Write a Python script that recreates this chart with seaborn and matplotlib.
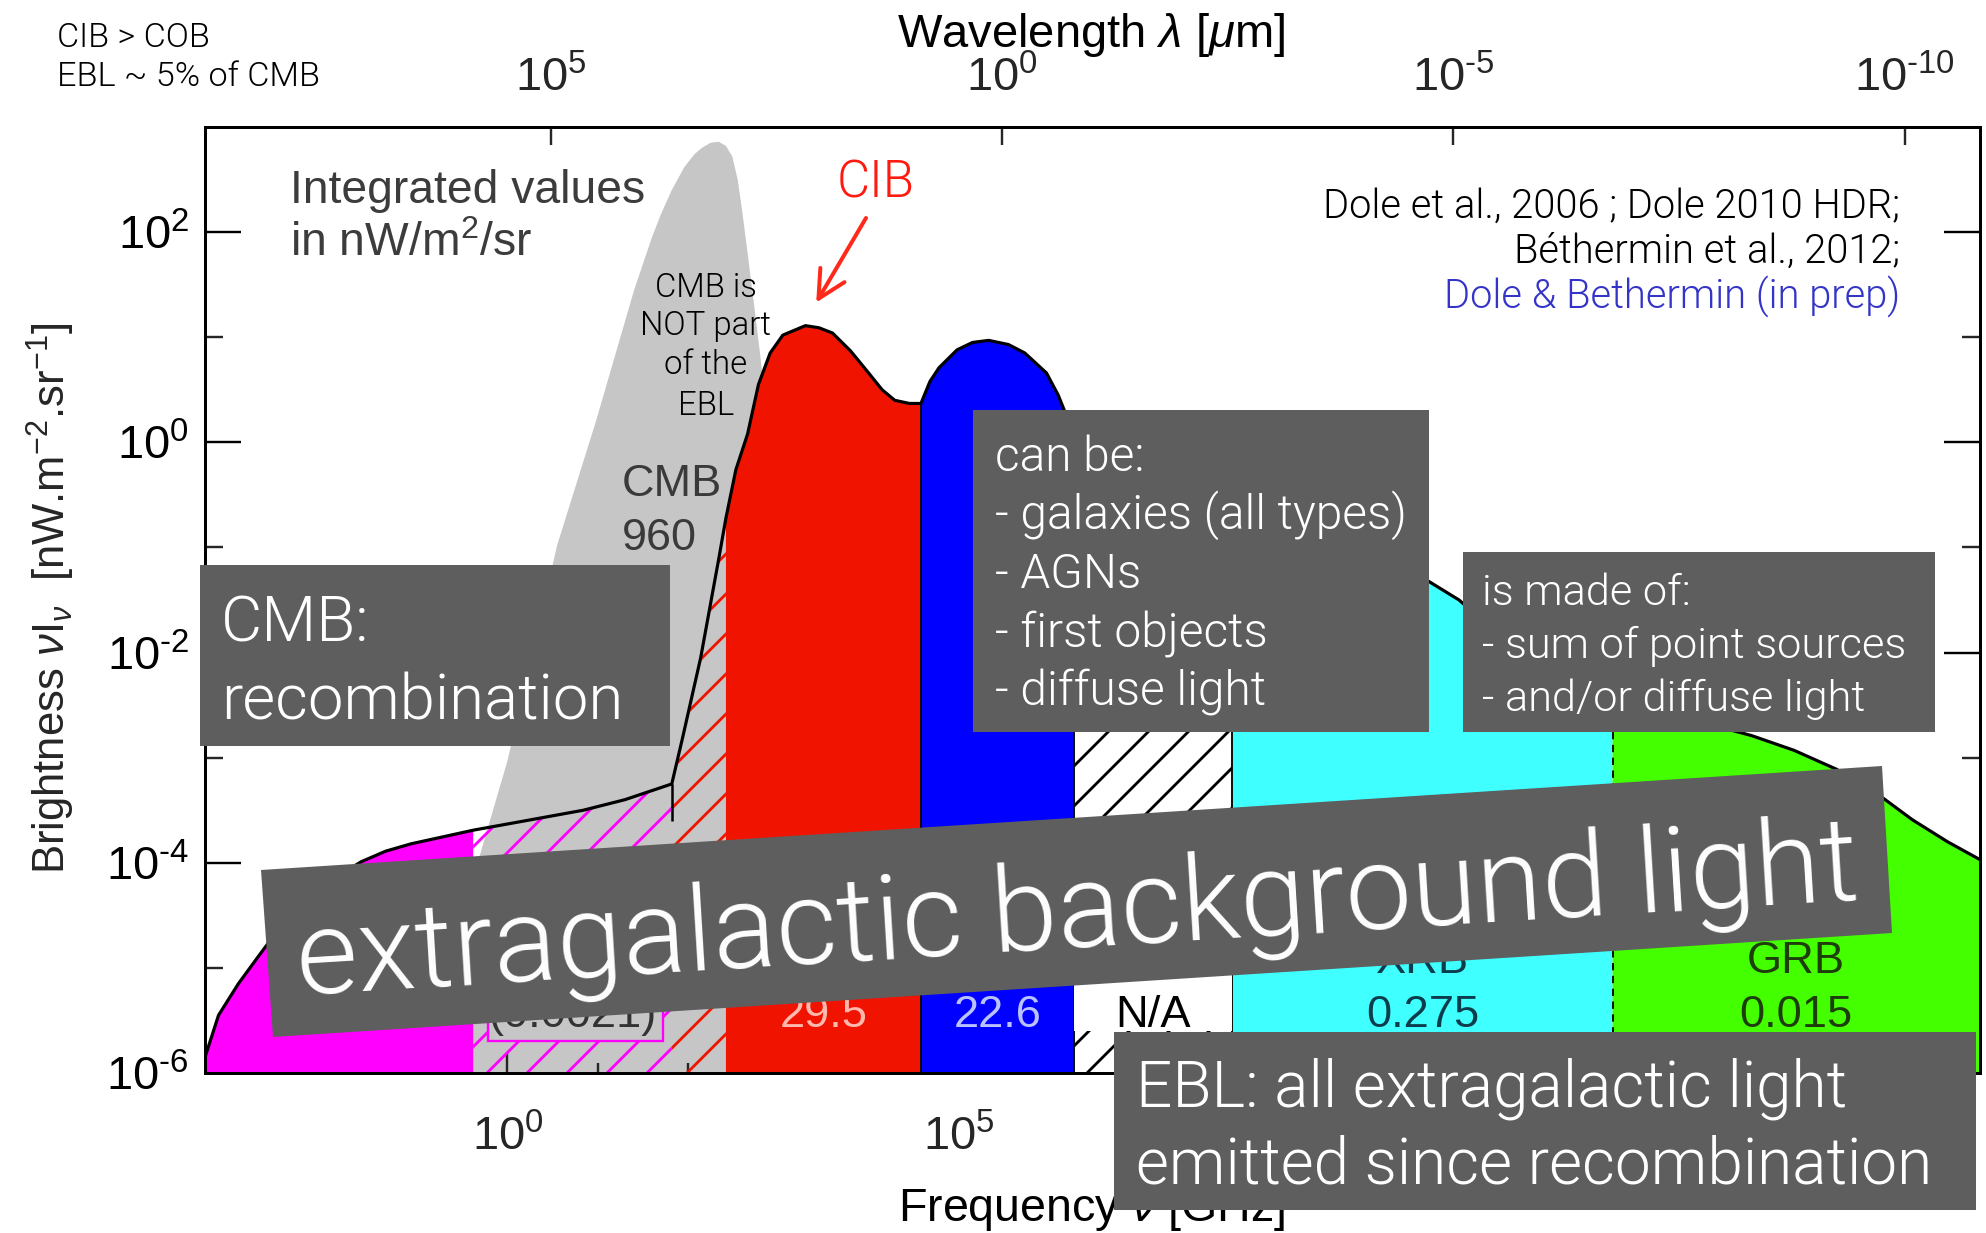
import numpy as np
import pandas as pd
import matplotlib
matplotlib.use("Agg")
import matplotlib.pyplot as plt
import seaborn as sns
from matplotlib import font_manager as fm
from matplotlib.transforms import Affine2D
from matplotlib.patches import Polygon, Rectangle
from matplotlib.ticker import FixedLocator, NullLocator, NullFormatter, FuncFormatter

# ---------------------------------------------------------------- data
# CMB black body (grey): log10 frequency [GHz] / log10 brightness [nW m^-2 sr^-1]
cmb_lognu = [-1.00, -0.50, 0.00, 0.55, 0.98, 1.40, 1.60, 1.70, 1.82, 1.96, 2.07,
             2.15, 2.25, 2.34, 2.42, 2.49, 2.55, 2.60, 2.66, 2.73, 2.80, 2.95,
             3.10, 3.25, 3.40]
cmb_logI = [-6.00, -4.50, -3.03, -0.98, 0.20, 1.44, 1.95, 2.17, 2.40, 2.62, 2.74,
            2.80, 2.85, 2.86, 2.82, 2.72, 2.50, 2.20, 1.80, 1.32, 0.83, -0.40,
            -1.90, -3.70, -6.00]

# Extragalactic background light envelope, radio to gamma rays
ebl_lognu = [-3.35, -3.20, -2.98, -2.75, -2.55, -2.35, -2.13, -1.90, -1.62, -1.35,
             -1.07, -0.75, -0.38, 0.20, 0.84, 1.30, 1.82, 1.94, 2.14, 2.34,
             2.42, 2.53, 2.66, 2.78, 2.91, 3.05, 3.30, 3.45, 3.60, 3.80,
             4.00, 4.15, 4.29, 4.45, 4.58, 4.68, 4.78, 4.98, 5.15, 5.33,
             5.55, 5.73, 5.97, 6.10, 6.17, 6.28, 6.60, 7.00, 7.50, 8.03,
             8.50, 9.00, 9.50, 9.90, 10.18, 10.54, 11.00, 11.50, 12.00, 12.24,
             12.80, 13.30, 13.78, 14.25, 14.72, 15.15, 15.56, 15.95, 16.31]
ebl_logI = [-5.85, -5.45, -5.15, -4.88, -4.65, -4.46, -4.30, -4.14, -3.99, -3.89,
            -3.82, -3.76, -3.69, -3.60, -3.50, -3.40, -3.25, -2.81, -2.05, -1.11,
            -0.72, -0.26, 0.08, 0.55, 0.85, 1.02, 1.11, 1.09, 1.04, 0.87,
            0.66, 0.50, 0.40, 0.37, 0.37, 0.58, 0.71, 0.88, 0.95, 0.97,
            0.93, 0.85, 0.66, 0.45, 0.30, 0.00, -0.60, -1.10, -1.55, -1.85,
            -1.55, -1.30, -1.15, -1.15, -1.31, -1.50, -1.85, -2.15, -2.40, -2.50,
            -2.60, -2.68, -2.79, -2.93, -3.11, -3.33, -3.59, -3.80, -3.97]

# Band boundaries (log10 GHz) and their styles
band_edges = [-3.35, -0.38, 1.82, 2.42, 4.58, 6.28, 8.03, 12.24, 16.31]
band_face = ["#ff00ff", "none", "none", "#f01400", "#0000ff", "white", "#40ffff", "#44ff00"]
band_hatch = [None, "#ff00ff", "#f01400", None, None, "black", None, None]

# Integrated values written in the bands
label_band = [1, 3, 4, 5, 6, 7]
label_name = ["", "", "", "", "XRB", "GRB"]
label_value = ["(0.0021)", "29.5", "22.6", "N/A", "0.275", "0.015"]
label_color = ["#333333", "#ffb8ae", "#b9c1ff", "black", "#0b3d4c", "#1d3d0a"]

y_major = [1e-6, 1e-4, 1e-2, 1e0, 1e2]
y_minor = [1e-5, 1e-3, 1e-1, 1e1]
x_major = [1e0, 1e5, 1e10, 1e15]
x_minor = [10.0 ** k for k in range(-3, 17) if k % 5 != 0]
lam_major = [1e5, 1e0, 1e-5, 1e-10]

# ---------------------------------------------------------------- style
sns.set_theme(style="ticks")
plt.rcParams.update({
    "font.family": ["Liberation Sans", "DejaVu Sans"],
    "mathtext.fontset": "custom",
    "mathtext.rm": "Liberation Sans",
    "mathtext.it": "Liberation Sans:italic",
    "mathtext.bf": "Liberation Sans:bold",
    "mathtext.default": "regular",
    "axes.unicode_minus": False,
    "hatch.linewidth": 1.7,
    "axes.linewidth": 1.8,
    "axes.edgecolor": "black",
    "figure.facecolor": "white",
    "axes.facecolor": "white",
})


def light_family():
    found = {}
    for f in fm.fontManager.ttflist:
        w = f.weight
        if isinstance(w, str):
            w = {"light": 300, "extra light": 200, "ultralight": 200}.get(w.lower(), 400)
        if 200 <= w <= 300 and f.style == "normal":
            found.setdefault(f.name, w)
    for fam in ["Roboto", "Inter", "Lato", "Open Sans", "Noto Sans"]:
        if fam in found:
            return fam, found[fam]
    return "Liberation Sans", "normal"


LIGHT_FAM, LIGHT_W = light_family()
LIGHT = dict(family=[LIGHT_FAM, "DejaVu Sans"], weight=LIGHT_W)
REG = dict(family=["Liberation Sans", "DejaVu Sans"])

W, H, DPI = 1986, 1233, 120
PT = 72.0 / DPI
BOX = "#5e5e5e"

fig = plt.figure(figsize=(W / DPI, H / DPI), dpi=DPI)
renderer = fig.canvas.get_renderer()
# pixel coordinates measured from the top-left corner of the figure
TP = Affine2D().scale(1.0 / W, -1.0 / H).translate(0, 1) + fig.transFigure

ax = fig.add_axes([205 / W, 1 - 1073 / H, (1980 - 205) / W, (1073 - 127) / H])
ax.set_xscale("log")
ax.set_yscale("log")

lognu = np.array(ebl_lognu)
logI = np.array(ebl_logI)

# CMB
ax.fill_between(10 ** np.array(cmb_lognu), 1e-6, 10 ** np.array(cmb_logI),
                facecolor="#c6c6c6", edgecolor="none", linewidth=0, zorder=0.5)

# EBL bands
for i in range(len(band_edges) - 1):
    a, b = band_edges[i], band_edges[i + 1]
    m = (lognu >= a - 1e-9) & (lognu <= b + 1e-9)
    hc = band_hatch[i]
    ax.fill_between(10 ** lognu[m], 1e-6, 10 ** logI[m],
                    facecolor=band_face[i],
                    edgecolor=hc if hc else "none",
                    hatch="/" if hc else None,
                    linewidth=0, zorder=1)


def env_at(e):
    return 10 ** logI[np.argmin(np.abs(lognu - e))]


for k in (4, 5, 6):
    ax.vlines(10 ** band_edges[k], 1e-6, env_at(band_edges[k]), colors="black",
              linewidth=1.1, zorder=2)
ax.vlines(10 ** band_edges[7], 1e-6, env_at(band_edges[7]), colors="black",
          linewidth=1.1, linestyles=(0, (4, 3)), zorder=2)
ax.vlines(10 ** band_edges[2], 10 ** -3.6, env_at(band_edges[2]), colors="black",
          linewidth=1.5, zorder=2)

# envelope outline
df = pd.DataFrame({"nu": 10 ** lognu, "I": 10 ** logI})
sns.lineplot(data=df, x="nu", y="I", color="black", linewidth=1.9,
             estimator=None, sort=False, ax=ax, zorder=3)
ax.set_xlabel("")
ax.set_ylabel("")

ax.set_xlim(10 ** band_edges[0], 10 ** band_edges[-1])
ax.set_ylim(1e-6, 1e3)

# band labels
for j, bi in enumerate(label_band):
    a, b = band_edges[bi], band_edges[bi + 1]
    xc = 10 ** ((a + b) / 2)
    if label_value[j] == "N/A":
        ax.add_patch(Rectangle((10 ** a, 10 ** -5.6), 10 ** b - 10 ** a,
                               10 ** -4.85 - 10 ** -5.6, facecolor="white",
                               edgecolor="none", zorder=2.5))
    if j == 0:
        x0, x1 = 10 ** (a + 0.17), 10 ** (b - 0.10)
        ax.add_patch(Rectangle((x0, 10 ** -5.70), x1 - x0, 10 ** -5.0 - 10 ** -5.70,
                               facecolor="#c6c6c6", edgecolor="#ff00ff",
                               linewidth=1.4, zorder=2.5))
    if label_name[j]:
        ax.text(xc, 10 ** -5.05, label_name[j], ha="center", va="baseline",
                color=label_color[j], fontsize=20, zorder=4, **REG)
    ax.text(xc, 10 ** -5.56, label_value[j], ha="center", va="baseline",
            color=label_color[j], fontsize=20, zorder=4, **REG)


# ticks
def pow10(v, _pos):
    if v <= 0:
        return ""
    e = int(round(np.log10(v)))
    return r"$\mathdefault{10^{\text{%d}}}$" % e


ax.xaxis.set_major_locator(FixedLocator(x_major))
ax.xaxis.set_minor_locator(FixedLocator(x_minor))
ax.yaxis.set_major_locator(FixedLocator(y_major))
ax.yaxis.set_minor_locator(FixedLocator(y_minor))
ax.xaxis.set_major_formatter(FuncFormatter(pow10))
ax.yaxis.set_major_formatter(FuncFormatter(pow10))
ax.xaxis.set_minor_formatter(NullFormatter())
ax.yaxis.set_minor_formatter(NullFormatter())
tick_fs = 47 * PT
ax.tick_params(axis="y", which="major", direction="in", length=36 * PT, width=2.4 * PT,
               labelsize=tick_fs, pad=16 * PT, left=True, right=True, colors="black")
ax.tick_params(axis="y", which="minor", direction="in", length=18 * PT, width=2.4 * PT,
               left=True, right=True)
ax.tick_params(axis="x", which="major", direction="in", length=20 * PT, width=2.4 * PT,
               labelsize=tick_fs, pad=42 * PT, bottom=True, top=False)
ax.tick_params(axis="x", which="minor", direction="in", length=10 * PT, width=2.4 * PT,
               bottom=True, top=False)
for s in ax.spines.values():
    s.set_linewidth(3 * PT)
    s.set_color("black")


def nu_to_lam(x):
    x = np.asarray(x, dtype=float)
    with np.errstate(divide="ignore"):
        return 2.998e5 / x


sec = ax.secondary_xaxis("top", functions=(nu_to_lam, nu_to_lam))
sec.xaxis.set_major_locator(FixedLocator(lam_major))
sec.xaxis.set_minor_locator(NullLocator())
sec.xaxis.set_major_formatter(FuncFormatter(pow10))
sec.tick_params(axis="x", direction="in", length=18 * PT, width=2.4 * PT,
                labelsize=tick_fs, pad=26 * PT)
sec.spines["top"].set_linewidth(3 * PT)

# CIB arrow
ax.annotate("", xy=(10 ** 3.42, 10 ** 1.33), xycoords="data",
            xytext=(866, 218), textcoords=TP, annotation_clip=False,
            arrowprops=dict(arrowstyle="->,head_length=0.55,head_width=0.28",
                            color="#ff2a1a", lw=4 * PT, mutation_scale=30,
                            shrinkA=0, shrinkB=0))


# ---------------------------------------------------------------- text helpers
def fit(texts, target, vertical=False):
    for _ in range(3):
        ext = [t.get_window_extent(renderer) for t in texts]
        w = max(e.height if vertical else e.width for e in ext)
        for t in texts:
            t.set_fontsize(t.get_fontsize() * target / w)


def block(lines, x, baselines, width, ha="left", colors="black", z=6, style=LIGHT,
          fit_index=None):
    if isinstance(colors, str):
        colors = [colors] * len(lines)
    ts = [fig.text(x, y, s, transform=TP, ha=ha, va="baseline", color=c,
                   fontsize=20, zorder=z, **style)
          for s, y, c in zip(lines, baselines, colors)]
    if fit_index is None:
        fit(ts, width)
    else:
        fit([ts[fit_index]], width)
        for t in ts:
            t.set_fontsize(ts[fit_index].get_fontsize())
    return ts


def gray_box(x0, y0, x1, y1, z=5):
    fig.add_artist(Rectangle((x0, y0), x1 - x0, y1 - y0, transform=TP,
                             facecolor=BOX, edgecolor="none", zorder=z))


# band label sizes
vals = list(ax.texts)
ref = [t for t in vals if t.get_text() == "0.275"]
fit(ref, 113)
for t in vals:
    t.set_fontsize(ref[0].get_fontsize())

# axis titles
block(["Wavelength $\\mathit{\\lambda}$ [$\\mathit{\\mu}$m]"], 1091, [47], 388,
      ha="center", style=REG, z=4)
block(["Frequency $\\mathit{\\nu}$ [GHz]"], 1092, [1221], 387, ha="center", style=REG, z=4)
ylab = fig.text(66, 598, "Brightness $\\mathit{\\nu}$I$_{\\mathit{\\nu}}$  [nW.m$^{-2}$.sr$^{-1}$]",
                transform=TP, rotation=90, rotation_mode="anchor", ha="center",
                va="baseline", fontsize=20, zorder=4, **REG)
fit([ylab], 551, vertical=True)

# annotations on the plot
block(["CIB > COB", "EBL ~ 5% of CMB"], 57, [47, 86], 262)
block(["Integrated values", "in nW/m$^2$/sr"], 290, [203, 256], 355, colors="#3c3c3c",
      style=REG, fit_index=0)
block(["Dole et al., 2006 ; Dole 2010 HDR;", "Béthermin et al., 2012;",
       "Dole & Bethermin (in prep)"], 1900, [218, 263, 308], 577, ha="right",
      colors=["black", "black", "#3434c8"], fit_index=0)
block(["CIB"], 876, [197], 78, ha="center", colors="#ff1a10")
block(["CMB is", "NOT part", "of the", "EBL"], 706, [297, 335, 374, 415], 131,
      ha="center", fit_index=1)
block(["CMB", "960"], 622, [496, 550], 100, colors="#3a3a3a", style=REG, fit_index=0)

# grey call-out boxes
gray_box(200, 565, 670, 746)
block(["CMB:", "recombination"], 221, [641, 720], 402, colors="white", fit_index=1)

gray_box(973, 410, 1429, 732)
block(["can be:", "- galaxies (all types)", "- AGNs", "- first objects", "- diffuse light"],
      995, [471, 529, 588, 647, 706], 412, colors="white", fit_index=1)

gray_box(1463, 552, 1935, 732)
block(["is made of:", "- sum of point sources", "- and/or diffuse light"],
      1482, [605, 658, 711], 424, colors="white", fit_index=1)

gray_box(1114, 1032, 1976, 1210)
block(["EBL: all extragalactic light", "emitted since recombination"],
      1136, [1106, 1183], 798, colors="white", fit_index=1)

# tilted banner
fig.add_artist(Polygon([(261, 870), (1882, 766), (1892, 933), (273, 1037)],
                       closed=True, transform=TP, facecolor=BOX, edgecolor="none",
                       zorder=7))
banner = fig.text(298, 995, "extragalactic background light", transform=TP,
                  ha="left", va="baseline", color="white", fontsize=60, zorder=8,
                  rotation_mode="anchor", **LIGHT)
fit([banner], 1565)
banner.set_rotation(3.5)

fig.savefig("out.png", dpi=DPI)
